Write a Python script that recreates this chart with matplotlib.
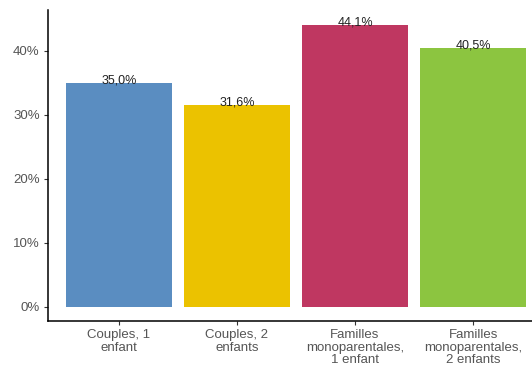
import matplotlib
matplotlib.use("Agg")
import matplotlib.pyplot as plt
from matplotlib.ticker import FuncFormatter

# data
categories = ["Couples, 1\nenfant", "Couples, 2\nenfants",
              "Familles\nmonoparentales,\n1 enfant", "Familles\nmonoparentales,\n2 enfants"]
values = [35.0, 31.6, 44.1, 40.5]
colors = ["#5A8DC1", "#EBC200", "#BF3761", "#8CC540"]

plt.rcParams['font.family'] = ['Liberation Sans', 'DejaVu Sans']

fig = plt.figure(figsize=(5.32, 3.71), dpi=100)
# y: 0% at 307px, 40% at 51px ; axes from 10px to 321px
ax = fig.add_axes([48/532, 1-321/371, (544-48)/532, (321-10)/371])

x = list(range(len(values)))
ax.bar(x, values, width=0.9, color=colors)

for xi, v in zip(x, values):
    ax.text(xi, v - 0.15, f"{v:.1f}%".replace(".", ","), ha='center', va='baseline',
            fontsize=9, color='#222222')

ax.set_xlim(-0.6, 3.6)
ax.set_ylim(-14/6.4, 46.4)
ax.set_yticks([0, 10, 20, 30, 40])
ax.yaxis.set_major_formatter(FuncFormatter(lambda v, p: f"{v:.0f}%"))
ax.set_xticks(x)
ax.set_xticklabels(categories, linespacing=1.05)

for s in ['top', 'right']:
    ax.spines[s].set_visible(False)
for s in ['left', 'bottom']:
    ax.spines[s].set_linewidth(1.1)
    ax.spines[s].set_color('black')
ax.tick_params(axis='both', length=3, width=0.8, color='#333333',
               labelsize=9.5, labelcolor='#555555', pad=3)
ax.tick_params(axis='x', pad=3)

fig.savefig("out.png", dpi=100)
